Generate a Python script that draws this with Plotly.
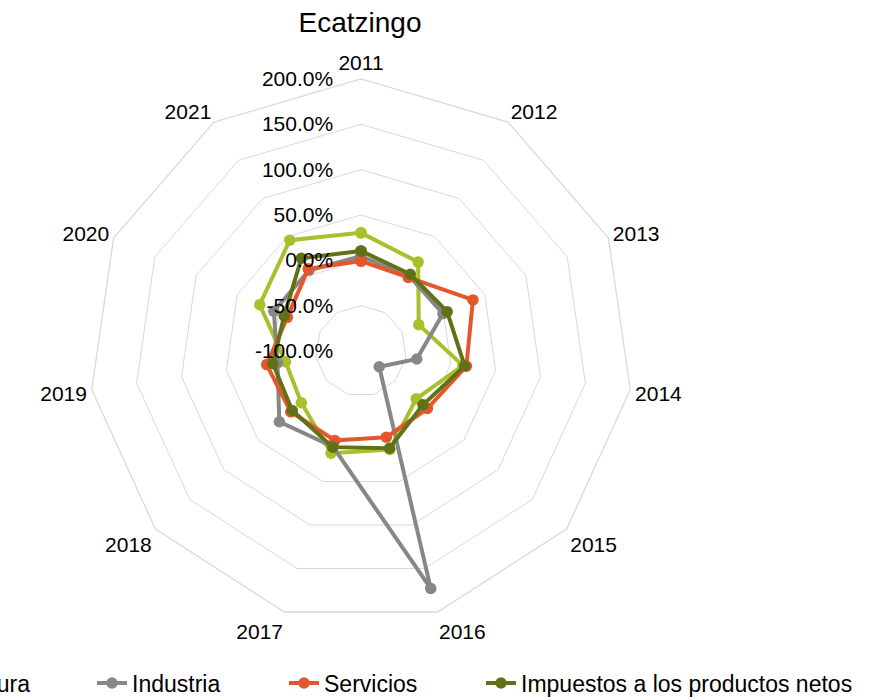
import plotly.graph_objects as go

years = ["2011", "2012", "2013", "2014", "2015", "2016", "2017", "2018", "2019", "2020", "2021"]

# growth rates in percent
agricultura = [30.3, 16.6, -30.0, 13.5, -19.4, 13.2, 17.5, -12.9, -15.9, 22.8, 45.3]
industria = [4.5, -1.7, -0.6, -37.8, -73.4, 172.9, 10.0, 19.2, -6.9, 5.7, 5.9]
servicios = [-0.8, -3.5, 35.7, 17.4, -3.1, -0.9, 2.8, 2.5, 5.1, -10.6, 7.7]
impuestos = [10.4, 0.6, 4.4, 15.5, -9.5, 11.8, 10.5, 0.3, -1.8, -6.8, 21.6]

radial_ticks = [-100, -50, 0, 50, 100, 150, 200]

series = [
    ("Agricultura", agricultura, "#A8C02C", "legend"),
    ("Industria", industria, "#878787", "legend2"),
    ("Servicios", servicios, "#E4572A", "legend3"),
    ("Impuestos a los productos netos", impuestos, "#617118", "legend4"),
]

FONT = "Liberation Sans, Arial, sans-serif"
BASE = radial_ticks[0]  # radial axis origin (-100 %) at the centre


def to_r(p):
    return (p - BASE) / 100.0


fig = go.Figure()
for name, vals, color, lg in series:
    r = [to_r(x) for x in vals]
    fig.add_trace(go.Scatterpolar(
        r=r + [r[0]],
        theta=years + [years[0]],
        mode="lines+markers",
        name=name,
        legend=lg,
        line=dict(color=color, width=4),
        marker=dict(color=color, size=11.5, symbol="circle"),
        customdata=vals + [vals[0]],
        hovertemplate="%{theta}: %{customdata:.1f}%<extra>" + name + "</extra>",
    ))

W, H = 872, 700
MB = 40
PH = H - MB
cx, cy, R = 361, 351, 272

legend_y = (PH - 683) / PH
leg_common = dict(orientation="h", xanchor="left", y=legend_y, yanchor="middle",
                  font=dict(size=23, family=FONT, color="black"), bgcolor="rgba(0,0,0,0)")

fig.update_layout(
    width=W, height=H,
    paper_bgcolor="white",
    margin=dict(l=0, r=0, t=0, b=MB, autoexpand=False),
    font=dict(family=FONT, size=21, color="black"),
    title=dict(text="Ecatzingo", x=360 / W, xanchor="center", y=1 - 22 / H, yanchor="middle",
               yref="container", font=dict(size=28, family=FONT, color="black")),
    polar=dict(
        domain=dict(x=[(cx - R) / W, (cx + R) / W], y=[(PH - cy - R) / PH, (PH - cy + R) / PH]),
        bgcolor="white",
        gridshape="linear",
        angularaxis=dict(
            rotation=90, direction="clockwise",
            showgrid=False, showline=True, linecolor="#D9D9D9", linewidth=1.3,
            ticks="", tickfont=dict(size=21, family=FONT, color="black"),
        ),
        radialaxis=dict(
            range=[0, to_r(radial_ticks[-1])],
            tickvals=[to_r(t) for t in radial_ticks],
            ticktext=[f"{t:.1f}%" for t in radial_ticks],
            angle=90, tickangle=90,
            showline=False, gridcolor="#D9D9D9", gridwidth=1.3,
            ticks="outside", ticklen=20, tickcolor="rgba(0,0,0,0)", side="counterclockwise",
            tickfont=dict(size=21, family=FONT, color="black"),
        ),
    ),
    showlegend=True,
    legend=dict(x=-120 / W, **leg_common),
    legend2=dict(x=92 / W, **leg_common),
    legend3=dict(x=284 / W, **leg_common),
    legend4=dict(x=481 / W, **leg_common),
)

fig.write_html(
    "out.html",
    config={"displayModeBar": False},
    post_script="document.body.style.margin='0';document.body.style.overflow='hidden';",
)
